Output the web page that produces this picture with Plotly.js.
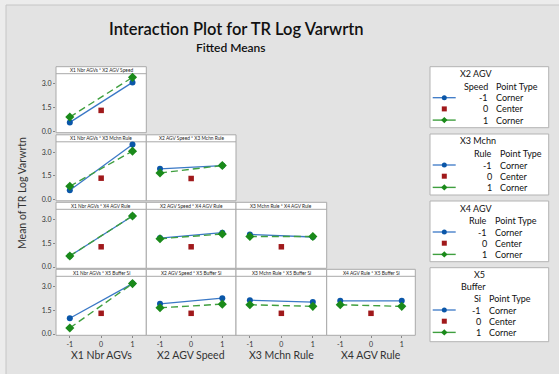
<!DOCTYPE html>
<html>
<head>
<meta charset="utf-8">
<script src="https://cdn.plot.ly/plotly-3.0.1.min.js"></script>
<style>html,body{margin:0;padding:0;background:#ececec;}#chart{width:559px;height:374px;}</style>
</head>
<body>
<div id="chart"></div>
<script>
// ---------------- DATA ----------------
const factorNames = ["X1 Nbr AGVs", "X2 AGV Speed", "X3 Mchn Rule", "X4 AGV Rule", "X5 Buffer Si"];
const levels = [-1, 0, 1];
const tickLabelsY = ["0.0", "1.5", "3.0"];
const tickValsY = [0, 1.5, 3];
// panel i: x factor = panelCol[i], trace factor = panelRow[i] + 1
const panelRow = [0, 1, 1, 2, 2, 2, 3, 3, 3, 3];
const panelCol = [0, 0, 1, 0, 1, 2, 0, 1, 2, 3];
// fitted means, trace level -1 (blue) at x = -1 and x = +1
const lowAtMinus = [0.57, 0.59, 1.94, 0.70, 1.83, 2.06, 1.00, 1.91, 2.14, 2.10];
const lowAtPlus  = [3.10, 3.48, 2.15, 3.23, 2.17, 1.90, 3.19, 2.27, 2.02, 2.10];
// trace level +1 (green)
const highAtMinus = [0.91, 0.84, 1.68, 0.70, 1.79, 1.93, 0.38, 1.66, 1.85, 1.85];
const highAtPlus  = [3.42, 3.06, 2.15, 3.23, 2.09, 1.93, 3.19, 1.89, 1.75, 1.75];
// center point (level 0)
const centerVals = [1.33, 1.35, 1.33, 1.28, 1.28, 1.28, 1.31, 1.31, 1.31, 1.31];
// legend
const legendTitles = [["X2 AGV"], ["X3 Mchn"], ["X4 AGV"], ["X5", "Buffer"]];
const legendColNames = ["Speed", "Rule", "Rule", "Si"];
const levelLabels = ["-1", "0", "1"];
const pointTypes = ["Corner", "Center", "Corner"];

// ---------------- LAYOUT GEOMETRY ----------------
const W = 559, H = 374;
const px = x => x / W;
const py = y => 1 - y / H;
const colEdges = [56, 146.3, 236, 326.7, 415.3];
const rowTops = [66.7, 134.8, 202.3, 269.3];
const headH = 7, plotH = 59;
const FONT = "Lato, 'Open Sans', sans-serif";
const BLUE_L = "#3a78c6", BLUE_M = "#0a56a8";
const GREEN_L = "#3f9f3f", GREEN_M = "#1a8a1a";
const RED = "#a0191b";
const BORDER = "#a9a9a9";

const data = [];
const shapes = [];
const annotations = [];
const layout = {
  width: W, height: H,
  margin: {l: 0, r: 0, t: 0, b: 0},
  paper_bgcolor: "#ececec",
  plot_bgcolor: "rgba(0,0,0,0)",
  showlegend: false,
  font: {family: FONT, color: "#333"}
};

// outer frame
shapes.push({type: "rect", xref: "paper", yref: "paper", layer: "below",
  x0: px(6), x1: px(W + 20), y0: py(5), y1: py(H + 20),
  fillcolor: "#e3e3e3", line: {color: "#c6c6c6", width: 1}});

panelRow.forEach((r, i) => {
  const c = panelCol[i];
  const n = i + 1;
  const xa = "xaxis" + (n === 1 ? "" : n), ya = "yaxis" + (n === 1 ? "" : n);
  const xr = "x" + (n === 1 ? "" : n), yr = "y" + (n === 1 ? "" : n);
  const x0 = colEdges[c], x1 = colEdges[c + 1];
  const top = rowTops[r], ptop = top + headH, pbot = ptop + plotH;
  const bottomRow = (r === 3);
  layout[xa] = {domain: [px(x0), px(x1)], anchor: yr, range: [-1.44, 1.44],
    showgrid: false, zeroline: false, showline: false,
    tickvals: levels, ticktext: levels.map(String),
    showticklabels: bottomRow, ticks: bottomRow ? "outside" : "", ticklen: 2, tickcolor: "#888",
    tickfont: {size: 7, color: "#333", family: FONT}, fixedrange: true};
  layout[ya] = {domain: [py(pbot), py(ptop)], anchor: xr, range: [-0.08, 3.65],
    showgrid: false, zeroline: false, showline: false,
    tickvals: tickValsY, ticktext: tickLabelsY,
    showticklabels: c === 0, ticks: c === 0 ? "outside" : "", ticklen: 2, tickcolor: "#888",
    tickfont: {size: 7, color: "#333", family: FONT}, fixedrange: true};
  // panel box
  shapes.push({type: "rect", xref: "paper", yref: "paper", layer: "below",
    x0: px(x0), x1: px(x1), y0: py(pbot), y1: py(top),
    fillcolor: "white", line: {color: BORDER, width: 1}});
  shapes.push({type: "line", xref: "paper", yref: "paper", layer: "below",
    x0: px(x0), x1: px(x1), y0: py(ptop), y1: py(ptop), line: {color: BORDER, width: 1}});
  annotations.push({xref: "paper", yref: "paper", x: px((x0 + x1) / 2), y: py(top + headH / 2),
    text: factorNames[c] + " * " + factorNames[r + 1], showarrow: false,
    font: {size: 4.8, color: "#222", family: FONT}, xanchor: "center", yanchor: "middle"});
  // traces
  data.push({type: "scatter", mode: "lines+markers", xaxis: xr, yaxis: yr,
    x: [levels[0], levels[2]], y: [lowAtMinus[i], lowAtPlus[i]],
    line: {color: BLUE_L, width: 1.3}, marker: {symbol: "circle", size: 6, color: BLUE_M}, cliponaxis: false});
  data.push({type: "scatter", mode: "lines+markers", xaxis: xr, yaxis: yr,
    x: [levels[0], levels[2]], y: [highAtMinus[i], highAtPlus[i]],
    line: {color: GREEN_L, width: 1.4, dash: "7px,4px"}, marker: {symbol: "diamond", size: 7, color: GREEN_M}, cliponaxis: false});
  data.push({type: "scatter", mode: "markers", xaxis: xr, yaxis: yr,
    x: [levels[1]], y: [centerVals[i]],
    marker: {symbol: "square", size: 5.5, color: RED}, cliponaxis: false});
});

// x-axis titles
factorNames.slice(0, 4).forEach((name, c) => {
  annotations.push({xref: "paper", yref: "paper", x: px((colEdges[c] + colEdges[c + 1]) / 2), y: py(355),
    text: name, showarrow: false, font: {size: 10.5, color: "#333", family: FONT},
    xanchor: "center", yanchor: "middle"});
});
// y-axis title
annotations.push({xref: "paper", yref: "paper", x: px(22), y: py(193), text: "Mean of TR Log Varwrtn",
  textangle: -90, showarrow: false, font: {size: 10.5, color: "#333", family: FONT},
  xanchor: "center", yanchor: "middle"});
// titles
annotations.push({xref: "paper", yref: "paper", x: px(236), y: py(29), text: "Interaction Plot for TR Log Varwrtn",
  showarrow: false, font: {size: 16.5, color: "#111", family: FONT, weight: 600}, xanchor: "center", yanchor: "middle"});
annotations.push({xref: "paper", yref: "paper", x: px(231), y: py(47), text: "Fitted Means",
  showarrow: false, font: {size: 12, color: "#111", family: FONT, weight: 600}, xanchor: "center", yanchor: "middle"});

// ---------------- LEGENDS ----------------
const boxTop = [66.7, 134, 201, 267.7];
const boxBot = [127.7, 195, 261.7, 341.7];
const splitR = [490, 494, 489.3, 483.3];
const titleX = [[458], [458], [458], [472, 459]];
const legL = 430, legR = 548.7;
legendTitles.forEach((lines, b) => {
  const t = boxTop[b];
  shapes.push({type: "rect", xref: "paper", yref: "paper", layer: "below",
    x0: px(legL), x1: px(legR), y0: py(boxBot[b]), y1: py(t),
    fillcolor: "white", line: {color: "#b3b3b3", width: 1}});
  let y = t + 7;
  lines.forEach((ln, k) => {
    annotations.push({xref: "paper", yref: "paper", x: px(titleX[b][k]), y: py(y), text: ln,
      showarrow: false, font: {size: 9, color: "#111", family: FONT}, xanchor: "left", yanchor: "middle"});
    y += 11.3;
  });
  y = t + 7 + 11.3 * lines.length + 1.5;
  annotations.push({xref: "paper", yref: "paper", x: px(splitR[b]), y: py(y), text: legendColNames[b],
    showarrow: false, font: {size: 9, color: "#111", family: FONT}, xanchor: "right", yanchor: "middle"});
  annotations.push({xref: "paper", yref: "paper", x: px(splitR[b] + 3.5), y: py(y), text: "Point Type",
    showarrow: false, font: {size: 9, color: "#111", family: FONT}, xanchor: "left", yanchor: "middle"});
  levelLabels.forEach((lv, k) => {
    const yy = y + 11.2 * (k + 1);
    annotations.push({xref: "paper", yref: "paper", x: px(splitR[b]), y: py(yy), text: lv,
      showarrow: false, font: {size: 9, color: "#111", family: FONT}, xanchor: "right", yanchor: "middle"});
    annotations.push({xref: "paper", yref: "paper", x: px(splitR[b] + 3.5), y: py(yy), text: pointTypes[k],
      showarrow: false, font: {size: 9, color: "#111", family: FONT}, xanchor: "left", yanchor: "middle"});
    const mx = 444.3;
    if (k === 0) {
      shapes.push({type: "line", xref: "paper", yref: "paper", x0: px(432.7), x1: px(455.7), y0: py(yy), y1: py(yy),
        line: {color: BLUE_L, width: 1.3}});
      shapes.push({type: "circle", xref: "paper", yref: "paper", x0: px(mx - 2.5), x1: px(mx + 2.5),
        y0: py(yy + 2.5), y1: py(yy - 2.5), fillcolor: BLUE_M, line: {width: 0}});
    } else if (k === 1) {
      shapes.push({type: "rect", xref: "paper", yref: "paper", x0: px(mx - 2.5), x1: px(mx + 2.5),
        y0: py(yy + 2.5), y1: py(yy - 2.5), fillcolor: RED, line: {width: 0}});
    } else {
      shapes.push({type: "line", xref: "paper", yref: "paper", x0: px(432.7), x1: px(455.7), y0: py(yy), y1: py(yy),
        line: {color: GREEN_L, width: 1.4}});
      shapes.push({type: "path", xref: "paper", yref: "paper",
        path: `M ${px(mx)} ${py(yy - 3.2)} L ${px(mx + 3.2)} ${py(yy)} L ${px(mx)} ${py(yy + 3.2)} L ${px(mx - 3.2)} ${py(yy)} Z`,
        fillcolor: GREEN_M, line: {width: 0}});
    }
  });
});

layout.shapes = shapes;
layout.annotations = annotations;
Plotly.newPlot("chart", data, layout, {staticPlot: true, displayModeBar: false});
</script>
</body>
</html>
